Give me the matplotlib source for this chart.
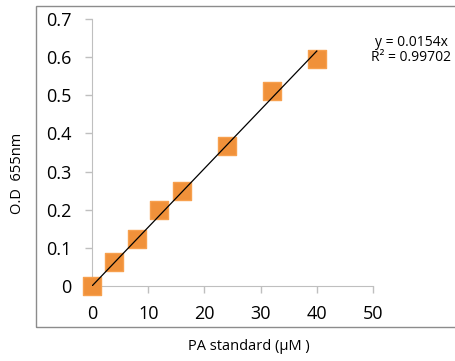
import numpy as np
import matplotlib.pyplot as plt
from matplotlib.patches import Rectangle

# PA standard curve data
conc = [0, 4, 8, 12, 16, 24, 32, 40]
od = [0.0, 0.062, 0.123, 0.199, 0.249, 0.367, 0.512, 0.596]
slope = 0.0154
r2 = 0.99702
x_ticks = [0, 10, 20, 30, 40, 50]
y_ticks = [0, 0.1, 0.2, 0.3, 0.4, 0.5, 0.6, 0.7]

plt.rcParams['font.family'] = ['Open Sans', 'DejaVu Sans']

fig = plt.figure(figsize=(4.56, 3.61), dpi=100)
# outer chart border
fig.patches.append(Rectangle((36 / 456, 1 - 327 / 361), 1.0, (327 - 6) / 361,
                             transform=fig.transFigure, fill=False,
                             edgecolor='#8c8c8c', linewidth=1.0))

ax = fig.add_axes([92 / 456, 1 - 286 / 361, 281 / 456, 267 / 361])
ax.set_xlim(0, 50)
ax.set_ylim(0, 0.7)

ax.scatter(conc, od, marker='s', s=150, color='#F0913A', edgecolor='#F7A04E',
           linewidth=1, zorder=3, clip_on=False)
fit_x = np.array([0, 40])
ax.plot(fit_x, slope * fit_x, color='black', linewidth=0.9, zorder=4)

ax.set_xticks(x_ticks)
ax.set_yticks(y_ticks)
ax.set_yticklabels(['0', '0.1', '0.2', '0.3', '0.4', '0.5', '0.6', '0.7'])
ax.tick_params(axis='both', labelsize=13, color='#BFBFBF', length=5, width=1)
ax.tick_params(axis='y', pad=10)
ax.tick_params(axis='x', pad=9)
for s in ['top', 'right']:
    ax.spines[s].set_visible(False)
for s in ['left', 'bottom']:
    ax.spines[s].set_color('#BFBFBF')

fig.text(18 / 456, 1 - 173 / 361, 'O.D  655nm', rotation=90, ha='center',
         va='center', fontsize=10.5)
fig.text(249 / 456, 1 - 347 / 361, 'PA standard (µM )', ha='center',
         va='center', fontsize=10.5)
fig.text(411 / 456, 1 - 50 / 361, 'y = %.4fx\nR² = %.5f' % (slope, r2),
         ha='center', va='center', fontsize=10, linespacing=1.0)

fig.savefig('out.png', dpi=100)
